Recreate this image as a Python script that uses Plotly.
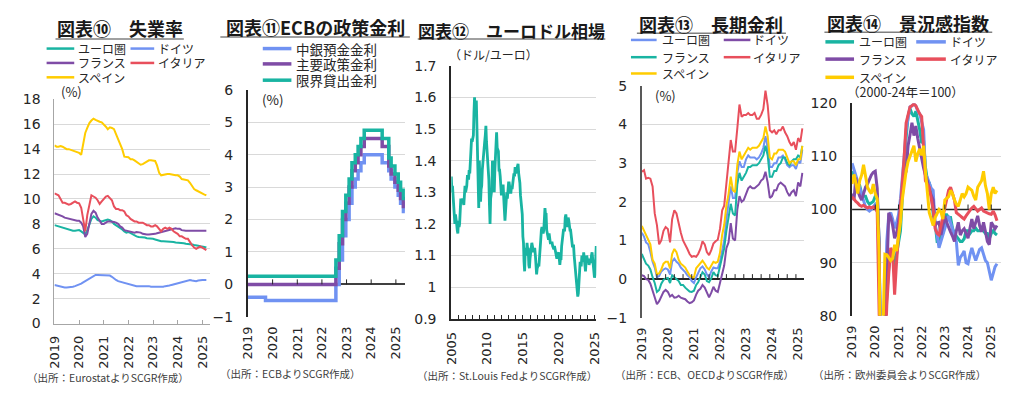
import pandas as pd
import plotly.graph_objects as go

# page is 1023x397; the plot div sits inside the default 8px body margin
PAGE_W, PAGE_H = 1023, 397
OX, OY = 8, 8
W, H = PAGE_W - 2 * OX, PAGE_H - 2 * OY

# ---------------- data ----------------
country_names = ["ユーロ圏", "ドイツ", "フランス", "イタリア", "スペイン"]
ecb_names = ["中銀預金金利", "主要政策金利", "限界貸出金利"]

# 図表⑩ 失業率 (monthly from 2019-01)
unemp_ea = [7.9, 7.85, 7.8, 7.7, 7.65, 7.6, 7.55, 7.5, 7.5, 7.45, 7.45, 7.45,
            7.5, 7.4, 7.25, 7.15, 7.5, 8.0, 8.4, 8.6, 8.5, 8.3, 8.25, 8.2,
            8.25, 8.3, 8.35, 8.3, 8.2, 8.0, 7.9, 7.8, 7.65, 7.55, 7.4, 7.3,
            7.35, 7.25, 7.2, 7.1, 7.0, 6.95, 6.95, 6.9, 6.9, 6.85, 6.85, 6.8,
            6.8, 6.75, 6.7, 6.65, 6.6, 6.6, 6.6, 6.6, 6.55, 6.6, 6.55, 6.5,
            6.5, 6.5, 6.45, 6.45, 6.4, 6.4, 6.4, 6.35, 6.3, 6.3, 6.25, 6.2,
            6.2, 6.15, 6.1]
unemp_de = [3.1, 3.05, 3.0, 2.95, 2.9, 2.9, 2.9, 2.9, 2.9, 2.95, 3.0, 3.05,
            3.15, 3.2, 3.3, 3.4, 3.5, 3.6, 3.7, 3.8, 3.9, 3.9, 3.9, 3.9,
            3.9, 3.9, 3.9, 3.85, 3.75, 3.6, 3.5, 3.4, 3.35, 3.3, 3.25, 3.2,
            3.15, 3.1, 3.1, 3.05, 3.0, 3.0, 3.0, 3.0, 3.05, 3.05, 3.0, 2.95,
            2.95, 2.9, 2.9, 2.9, 2.9, 2.95, 3.0, 3.0, 3.05, 3.1, 3.15, 3.2,
            3.2, 3.25, 3.3, 3.4, 3.45, 3.5, 3.5, 3.45, 3.4, 3.4, 3.45, 3.5,
            3.5, 3.5, 3.5]
unemp_fr = [8.85, 8.8, 8.75, 8.7, 8.6, 8.5, 8.45, 8.4, 8.35, 8.3, 8.25, 8.25,
            8.25, 8.1, 7.8, 6.95, 7.2, 8.0, 8.8, 9.05, 8.9, 8.5, 8.2, 8.0,
            8.0, 8.1, 8.2, 8.2, 8.2, 8.15, 8.1, 8.0, 7.8, 7.7, 7.5, 7.45,
            7.4, 7.35, 7.3, 7.3, 7.35, 7.35, 7.3, 7.2, 7.15, 7.15, 7.15, 7.15,
            7.2, 7.2, 7.25, 7.3, 7.3, 7.35, 7.4, 7.45, 7.55, 7.6, 7.65, 7.65,
            7.6, 7.6, 7.5, 7.45, 7.45, 7.45, 7.45, 7.4, 7.4, 7.4, 7.4, 7.4,
            7.4, 7.45, 7.45]
unemp_it = [10.45, 10.4, 10.3, 10.0, 9.7, 9.7, 9.6, 9.55, 9.6, 9.7, 9.8, 9.7,
            9.65, 9.3, 8.5, 7.4, 8.7, 9.6, 10.3, 10.2, 10.1, 9.9, 9.6, 9.8,
            10.0, 10.2, 10.25, 10.1, 9.9, 9.4, 9.2, 9.2, 9.1, 9.1, 9.0, 8.7,
            8.6, 8.4, 8.3, 8.2, 8.2, 8.1, 8.1, 8.1, 8.0, 7.9, 7.9, 7.8,
            7.8, 7.9, 7.8, 7.6, 7.4, 7.6, 7.7, 7.6, 7.7, 7.6, 7.4, 7.3,
            7.2, 7.0, 7.0, 6.9, 6.8, 6.8, 6.5, 6.3, 6.1, 6.0, 6.1, 6.2,
            6.1, 6.0, 5.9]
unemp_es = [14.3, 14.2, 14.2, 14.25, 14.2, 14.1, 14.0, 14.0, 13.95, 13.9, 13.85, 13.8,
            13.7, 13.55, 14.3, 15.3, 15.7, 16.1, 16.3, 16.45, 16.35, 16.25, 16.2, 16.15,
            16.0, 15.8, 15.6, 15.75, 15.7, 15.6, 15.2, 14.8, 14.5, 14.0, 13.4, 13.35,
            13.35, 13.2, 13.2, 13.1, 13.0, 12.9, 12.75, 12.8, 12.9, 13.0, 13.1, 13.1,
            13.05, 13.05, 12.7, 12.1, 11.9, 11.95, 12.0, 12.0, 12.0, 11.95, 11.9, 11.9,
            11.9, 11.8, 11.6, 11.55, 11.5, 11.5, 11.3, 11.0, 10.8, 10.7, 10.6, 10.5,
            10.45, 10.35, 10.3]

# 図表⑪ ECB policy rates (rate change dates)
ecb_dates = ["2019-01-01", "2019-09-18", "2022-07-27", "2022-09-14", "2022-11-02",
             "2022-12-21", "2023-02-08", "2023-03-22", "2023-05-10", "2023-06-21",
             "2023-08-02", "2023-09-20", "2024-06-12", "2024-09-18", "2024-10-23",
             "2024-12-18", "2025-02-05", "2025-03-12", "2025-04-23", "2025-05-15"]
ecb_deposit = [-0.40, -0.50, 0.00, 0.75, 1.50, 2.00, 2.50, 3.00, 3.25, 3.50,
               3.75, 4.00, 3.75, 3.50, 3.25, 3.00, 2.75, 2.50, 2.25, 2.25]
ecb_mro = [0.00, 0.00, 0.50, 1.25, 2.00, 2.50, 3.00, 3.50, 3.75, 4.00,
           4.25, 4.50, 4.25, 3.65, 3.40, 3.15, 2.90, 2.65, 2.40, 2.40]
ecb_mlf = [0.25, 0.25, 0.75, 1.50, 2.25, 2.75, 3.25, 3.75, 4.00, 4.25,
           4.50, 4.75, 4.50, 3.90, 3.65, 3.40, 3.15, 2.90, 2.65, 2.65]

# 図表⑫ EUR/USD (monthly from 2005-01)
eurusd = [1.35, 1.30, 1.32, 1.29, 1.27, 1.22, 1.20, 1.23, 1.22, 1.20, 1.18, 1.17,
          1.21, 1.19, 1.20, 1.23, 1.28, 1.27, 1.27, 1.28, 1.27, 1.26, 1.29, 1.32,
          1.30, 1.31, 1.32, 1.35, 1.35, 1.34, 1.37, 1.36, 1.39, 1.42, 1.47, 1.46,
          1.47, 1.48, 1.55, 1.60, 1.56, 1.56, 1.59, 1.50, 1.44, 1.33, 1.25, 1.40,
          1.32, 1.27, 1.31, 1.32, 1.37, 1.40, 1.41, 1.43, 1.46, 1.48, 1.51, 1.46,
          1.43, 1.37, 1.36, 1.34, 1.26, 1.20, 1.28, 1.29, 1.31, 1.40, 1.37, 1.32,
          1.30, 1.37, 1.40, 1.45, 1.49, 1.44, 1.43, 1.43, 1.37, 1.37, 1.35, 1.30,
          1.29, 1.32, 1.32, 1.32, 1.28, 1.25, 1.21, 1.24, 1.29, 1.30, 1.28, 1.31,
          1.33, 1.33, 1.30, 1.30, 1.30, 1.32, 1.31, 1.33, 1.34, 1.36, 1.35, 1.38,
          1.36, 1.37, 1.38, 1.38, 1.39, 1.36, 1.35, 1.33, 1.29, 1.27, 1.25, 1.23,
          1.16, 1.14, 1.08, 1.05, 1.12, 1.12, 1.10, 1.14, 1.12, 1.12, 1.07, 1.06,
          1.09, 1.11, 1.11, 1.14, 1.13, 1.12, 1.11, 1.12, 1.12, 1.10, 1.07, 1.04,
          1.06, 1.07, 1.07, 1.07, 1.11, 1.12, 1.15, 1.18, 1.19, 1.18, 1.17, 1.18,
          1.22, 1.25, 1.23, 1.23, 1.18, 1.17, 1.17, 1.15, 1.17, 1.15, 1.14, 1.14,
          1.14, 1.14, 1.13, 1.12, 1.12, 1.13, 1.12, 1.11, 1.10, 1.09, 1.10, 1.11,
          1.11, 1.09, 1.07, 1.09, 1.09, 1.13, 1.15, 1.18, 1.18, 1.18, 1.18, 1.22,
          1.23, 1.21, 1.19, 1.20, 1.22, 1.21, 1.18, 1.18, 1.18, 1.16, 1.13, 1.13,
          1.13, 1.13, 1.10, 1.08, 1.06, 1.05, 1.02, 1.01, 0.97, 0.98, 1.03, 1.06,
          1.08, 1.07, 1.07, 1.10, 1.09, 1.08, 1.11, 1.09, 1.07, 1.05, 1.08, 1.10,
          1.09, 1.08, 1.09, 1.07, 1.08, 1.08, 1.08, 1.10, 1.11, 1.09, 1.06, 1.04,
          1.03, 1.04, 1.08, 1.13]

# 図表⑬ 長期金利 (monthly from 2019-01)
lt_ea = [1.20, 1.10, 0.95, 0.90, 0.70, 0.45, 0.30, 0.05, 0.08, 0.20, 0.25, 0.28,
         0.25, 0.12, 0.45, 0.53, 0.45, 0.40, 0.30, 0.25, 0.18, 0.10, 0.05, -0.05,
         -0.10, 0.05, 0.15, 0.28, 0.33, 0.25, 0.12, 0.05, 0.20, 0.30, 0.28, 0.28,
         0.45, 0.80, 1.00, 1.55, 1.95, 2.40, 2.10, 2.10, 2.75, 3.05, 2.90, 2.90,
         3.10, 3.20, 3.15, 3.15, 3.15, 3.10, 3.15, 3.25, 3.40, 3.70, 3.40, 2.90,
         2.90, 3.00, 3.00, 3.15, 3.15, 3.20, 3.10, 2.95, 2.90, 2.95, 2.95, 2.85,
         3.05, 3.00, 3.35]
lt_de = [0.10, 0.08, 0.00, -0.02, -0.12, -0.30, -0.45, -0.65, -0.57, -0.45, -0.33, -0.28,
         -0.33, -0.45, -0.41, -0.48, -0.47, -0.43, -0.48, -0.50, -0.52, -0.58, -0.62, -0.60,
         -0.55, -0.40, -0.30, -0.25, -0.15, -0.22, -0.35, -0.47, -0.35, -0.20, -0.30, -0.33,
         -0.10, 0.10, 0.35, 0.80, 0.95, 1.45, 1.05, 1.00, 1.80, 2.15, 2.00, 2.05,
         2.20, 2.35, 2.40, 2.35, 2.35, 2.40, 2.45, 2.55, 2.60, 2.78, 2.50, 2.10,
         2.15, 2.30, 2.30, 2.45, 2.50, 2.45, 2.40, 2.25, 2.15, 2.25, 2.30, 2.15,
         2.50, 2.40, 2.75]
lt_fr = [0.65, 0.50, 0.40, 0.35, 0.25, 0.05, -0.10, -0.33, -0.28, -0.12, -0.02, 0.02,
         0.03, -0.10, 0.10, 0.05, 0.00, -0.05, -0.15, -0.15, -0.22, -0.28, -0.32, -0.33,
         -0.30, -0.15, -0.08, 0.05, 0.18, 0.12, -0.05, -0.08, 0.02, 0.18, 0.10, 0.08,
         0.35, 0.62, 0.80, 1.25, 1.55, 1.95, 1.70, 1.65, 2.45, 2.75, 2.55, 2.65,
         2.75, 2.90, 2.90, 2.95, 2.95, 2.95, 3.00, 3.10, 3.20, 3.45, 3.20, 2.65,
         2.65, 2.80, 2.80, 2.95, 3.00, 3.15, 3.15, 3.00, 2.95, 3.05, 3.10, 3.10,
         3.20, 3.15, 3.45]
lt_it = [2.78, 2.82, 2.60, 2.62, 2.60, 2.40, 1.70, 1.40, 0.90, 1.00, 1.25, 1.35,
         1.30, 0.95, 1.55, 1.78, 1.70, 1.40, 1.20, 1.00, 0.90, 0.78, 0.65, 0.58,
         0.60, 0.58, 0.65, 0.78, 0.98, 0.90, 0.70, 0.62, 0.75, 0.92, 0.98, 1.02,
         1.30, 1.78, 1.90, 2.45, 2.95, 3.60, 3.30, 3.30, 3.90, 4.52, 4.20, 4.25,
         4.25, 4.30, 4.25, 4.25, 4.30, 4.15, 4.15, 4.25, 4.40, 4.88, 4.50, 3.85,
         3.80, 3.85, 3.75, 3.85, 3.85, 3.95, 3.80, 3.70, 3.55, 3.45, 3.55, 3.35,
         3.65, 3.55, 3.90]
lt_es = [1.38, 1.25, 1.15, 1.05, 0.90, 0.50, 0.40, 0.12, 0.15, 0.25, 0.40, 0.45,
         0.45, 0.28, 0.65, 0.78, 0.70, 0.50, 0.40, 0.35, 0.30, 0.20, 0.10, 0.05,
         0.05, 0.28, 0.35, 0.40, 0.48, 0.40, 0.30, 0.25, 0.35, 0.45, 0.42, 0.45,
         0.68, 1.15, 1.40, 1.90, 2.20, 2.65, 2.30, 2.25, 2.95, 3.30, 3.10, 3.20,
         3.30, 3.40, 3.35, 3.40, 3.40, 3.40, 3.45, 3.55, 3.65, 3.95, 3.70, 3.15,
         3.10, 3.25, 3.25, 3.35, 3.35, 3.35, 3.30, 3.15, 3.00, 3.05, 3.05, 2.95,
         3.10, 3.10, 3.45]

# 図表⑭ 景況感指数 (monthly from 2019-01)
esi_ea = [107.2, 106.5, 105.8, 104.5, 104.5, 103.0, 102.5, 102.5, 101.5, 101.0, 101.3, 101.5,
          102.5, 103.0, 94.0, 66.0, 67.5, 76.0, 84.0, 89.0, 92.0, 92.0, 89.0, 91.5,
          93.5, 96.0, 102.0, 108.5, 113.5, 117.5, 119.0, 118.0, 117.5, 118.5, 117.0, 115.0,
          112.5, 113.0, 108.0, 105.5, 105.0, 103.5, 99.0, 97.5, 94.0, 94.0, 95.0, 96.5,
          99.0, 99.0, 98.5, 98.5, 96.5, 95.5, 95.0, 94.5, 94.0, 94.0, 94.5, 96.0,
          96.0, 95.5, 96.0, 96.0, 96.5, 96.0, 96.0, 96.5, 96.0, 95.5, 95.5, 94.5,
          95.5, 96.0, 95.5, 95.2]
esi_de = [108.7, 107.5, 106.5, 105.0, 104.0, 103.0, 101.5, 100.5, 100.0, 99.7, 100.0, 100.5,
          101.0, 100.5, 93.0, 68.0, 70.0, 82.0, 94.0, 99.0, 99.4, 98.2, 96.5, 97.5,
          99.0, 102.0, 105.5, 110.0, 115.0, 117.5, 119.3, 119.5, 119.8, 119.5, 118.5, 118.0,
          116.5, 115.0, 106.6, 106.0, 105.0, 104.0, 103.6, 97.0, 95.2, 92.8, 94.0, 95.2,
          96.5, 97.6, 98.8, 97.5, 96.4, 95.0, 94.0, 89.5, 91.0, 91.5, 92.2, 90.0,
          89.8, 91.5, 92.8, 91.5, 90.4, 91.5, 92.5, 92.8, 91.5, 90.4, 90.0, 88.5,
          86.7, 88.0, 89.2, 89.8]
esi_fr = [103.0, 101.8, 106.0, 103.6, 102.5, 101.8, 103.0, 104.2, 104.8, 105.7, 106.5, 107.0,
          107.2, 104.0, 94.0, 62.0, 65.0, 76.0, 88.0, 99.4, 98.5, 97.0, 94.6, 95.5,
          97.6, 100.5, 103.6, 106.0, 107.2, 112.0, 114.0, 116.3, 113.9, 115.7, 113.3, 111.4,
          109.5, 107.8, 106.5, 105.4, 103.6, 102.5, 101.8, 97.0, 97.5, 97.6, 95.2, 97.0,
          98.8, 97.5, 96.5, 95.8, 95.0, 94.0, 96.0, 97.6, 95.2, 96.0, 96.4, 95.5,
          94.6, 96.5, 98.2, 96.4, 97.5, 98.8, 97.0, 95.8, 97.6, 95.5, 94.0, 93.4,
          97.6, 97.0, 96.4, 97.0]
esi_it = [102.4, 101.8, 101.5, 101.2, 100.8, 100.6, 100.8, 100.5, 100.3, 100.5, 100.3, 100.5,
          100.3, 99.5, 88.0, 62.0, 62.0, 72.0, 82.0, 88.0, 92.8, 92.0, 84.0, 90.0,
          95.2, 99.0, 103.6, 110.0, 116.3, 118.0, 119.3, 119.5, 119.9, 119.5, 118.7, 118.0,
          117.5, 111.4, 105.4, 104.8, 104.2, 102.0, 100.0, 96.4, 95.5, 95.2, 97.0, 98.8,
          100.5, 101.8, 103.6, 104.2, 103.0, 101.8, 99.4, 99.0, 98.8, 98.5, 98.2, 98.8,
          99.4, 100.0, 100.3, 100.6, 100.2, 99.7, 100.0, 100.3, 99.7, 99.5, 99.4, 99.2,
          99.1, 99.7, 99.0, 97.9]
esi_es = [104.8, 106.6, 105.0, 103.0, 105.4, 106.5, 108.4, 106.0, 104.2, 103.5, 103.0, 104.8,
          103.0, 102.0, 92.0, 62.0, 75.0, 91.6, 91.5, 91.0, 90.4, 90.8, 93.4, 92.2,
          95.0, 97.6, 101.8, 105.0, 107.2, 109.0, 110.2, 111.0, 112.0, 109.0, 110.5, 111.4,
          110.2, 112.0, 107.2, 103.6, 99.4, 98.2, 97.0, 98.5, 99.4, 100.0, 99.5, 98.2,
          101.8, 102.2, 102.4, 103.6, 103.0, 101.8, 101.0, 100.6, 102.0, 103.0, 102.4, 103.0,
          104.2, 103.8, 103.6, 102.5, 101.8, 104.2, 104.8, 105.4, 107.2, 104.5, 103.0, 100.0,
          103.0, 104.2, 103.0, 103.6]
esi_base = 100

# ---------------- styling ----------------
TEAL = "#19b4a2"
BLUE = "#7092f2"
PURPLE = "#7f4ca6"
RED = "#e84f5c"
YELLOW = "#ffcc00"
JP = "Noto Sans CJK JP"
NUM = "DejaVu Sans"
TXT = "#262626"
GRID = "#d9d9d9"


def months(start, n):
    return pd.date_range(start, periods=n, freq="MS")


# page pixel -> paper fraction
def px(x):
    return (x - OX) / W


def py(y):
    return 1 - (y - OY) / H


def xdom(a, b):
    return [px(a), px(b)]


def ydom(top, bottom):
    return [py(bottom), py(top)]


X5_RANGE = ["2019-01-01", "2025-06-05"]

fig = go.Figure()

# Panel 1
for name, vals, col in zip(country_names, [unemp_ea, unemp_de, unemp_fr, unemp_it, unemp_es],
                           [TEAL, BLUE, PURPLE, RED, YELLOW]):
    fig.add_trace(go.Scatter(x=months("2019-01-01", len(vals)), y=vals, mode="lines", name=name,
                             line=dict(color=col, width=2), xaxis="x", yaxis="y", showlegend=False))
# Panel 2
for name, vals, col in zip(ecb_names, [ecb_deposit, ecb_mro, ecb_mlf], [BLUE, PURPLE, TEAL]):
    fig.add_trace(go.Scatter(x=pd.to_datetime(ecb_dates), y=vals, mode="lines", name=name,
                             line=dict(color=col, width=3.5, shape="hv"), xaxis="x2", yaxis="y2",
                             showlegend=False))
# Panel 3
fig.add_trace(go.Scatter(x=months("2005-01-01", len(eurusd)), y=eurusd, mode="lines", name="EUR/USD",
                         line=dict(color=TEAL, width=2.8), xaxis="x3", yaxis="y3", showlegend=False))
# Panel 4
lt_colors = [BLUE, PURPLE, TEAL, RED, YELLOW]
for name, vals, col in zip(country_names, [lt_ea, lt_de, lt_fr, lt_it, lt_es], lt_colors):
    fig.add_trace(go.Scatter(x=months("2019-01-01", len(vals)), y=vals, mode="lines", name=name,
                             line=dict(color=col, width=2), xaxis="x4", yaxis="y4", showlegend=False))
# Panel 5 (base line at 100 first, then series)
fig.add_trace(go.Scatter(x=X5_RANGE, y=[esi_base, esi_base], mode="lines", name="基準",
                         line=dict(color=TXT, width=1.5), xaxis="x5", yaxis="y5", showlegend=False,
                         hoverinfo="skip"))
esi_colors = [TEAL, BLUE, PURPLE, RED, YELLOW]
for name, vals, col in zip(country_names, [esi_ea, esi_de, esi_fr, esi_it, esi_es], esi_colors):
    fig.add_trace(go.Scatter(x=months("2019-01-01", len(vals)), y=vals, mode="lines", name=name,
                             line=dict(color=col, width=3), xaxis="x5", yaxis="y5", showlegend=False))

years_19 = [f"{y}-01-01" for y in range(2019, 2026)]
years_19_txt = [str(y) for y in range(2019, 2026)]
years_05 = [f"{y}-01-01" for y in range(2005, 2026)]
years_05_txt = [str(y) if (y - 2005) % 5 == 0 else "" for y in range(2005, 2026)]

xt = dict(type="date", tickangle=-90, tickfont=dict(family=NUM, size=13, color=TXT),
          showgrid=False, zeroline=False, ticklabelstandoff=6, fixedrange=True)
yt = dict(tickfont=dict(family=NUM, size=14, color=TXT), showgrid=True, gridcolor=GRID,
          gridwidth=1, ticks="", ticklabelstandoff=10, fixedrange=True)

fig.update_layout(
    width=W, height=H, margin=dict(l=0, r=0, t=0, b=0),
    paper_bgcolor="white", plot_bgcolor="white", showlegend=False,
    xaxis=dict(xt, domain=xdom(47, 205), anchor="y", range=["2019-01-01", "2025-05-01"],
               tickvals=years_19, ticktext=years_19_txt, ticks="inside", ticklen=4,
               tickcolor="#a6a6a6", showline=True, linecolor="#a6a6a6", linewidth=1),
    yaxis=dict(yt, domain=ydom(95, 329), anchor="x", range=[0, 18], dtick=2,
               showline=True, linecolor="#a6a6a6", linewidth=1, zeroline=False),
    xaxis2=dict(xt, domain=xdom(243, 402), anchor="y2", range=["2019-01-01", "2025-05-15"],
                tickvals=years_19, ticktext=years_19_txt, ticks="", showline=False),
    yaxis2=dict(yt, domain=ydom(85, 322), anchor="x2", range=[-1, 6], dtick=1,
                showline=True, linecolor=TXT, linewidth=2, zeroline=True,
                zerolinecolor="#404040", zerolinewidth=2),
    xaxis3=dict(xt, domain=xdom(449, 596), anchor="y3", range=["2005-01-01", "2025-04-10"],
                tickvals=years_05, ticktext=years_05_txt, ticks="inside", ticklen=4,
                tickcolor=TXT, showline=True, linecolor=TXT, linewidth=2),
    yaxis3=dict(yt, domain=ydom(60, 324), anchor="x3", range=[0.9, 1.7], dtick=0.1,
                showline=True, linecolor=TXT, linewidth=2, zeroline=False),
    xaxis4=dict(xt, domain=xdom(642, 806), anchor="y4", range=["2019-01-01", "2025-03-20"],
                tickvals=years_19, ticktext=years_19_txt, ticks="", showline=False),
    yaxis4=dict(yt, domain=ydom(81, 323), anchor="x4", range=[-1, 5], dtick=1,
                showline=True, linecolor="#595959", linewidth=1.5, zeroline=True,
                zerolinecolor=TXT, zerolinewidth=1.5),
    xaxis5=dict(xt, domain=xdom(855, 1006), anchor="y5", range=X5_RANGE,
                tickvals=years_19, ticktext=years_19_txt, ticks="", showline=False),
    yaxis5=dict(yt, domain=ydom(99, 321), anchor="x5", range=[80, 120], dtick=10,
                showline=True, linecolor=TXT, linewidth=2, zeroline=False),
)

shapes = []
annotations = []


# small tick marks on the zero / 100 lines
def tick_marks(dates, xref, yref, yval):
    for d in dates:
        shapes.append(dict(type="line", xref=xref, yref=yref, x0=d, x1=d,
                           ysizemode="pixel", yanchor=yval, y0=0, y1=5,
                           line=dict(color=TXT, width=1)))


tick_marks(years_19[1:], "x2", "y2", 0)
tick_marks([d.strftime("%Y-%m-%d") for d in pd.date_range("2019-04-01", "2025-03-01", freq="4MS")],
           "x4", "y4", 0)
tick_marks(years_19[1:], "x5", "y5", esi_base)

# titles with underline
titles = [("図表⑩　失業率", 113, 21, 18, 48, 178, 32),
          ("図表⑪ECBの政策金利", 311, 20, 18, 215, 407, 30),
          ("図表⑫　ユーロドル相場", 510, 23, 17, 415, 605, 32),
          ("図表⑬　長期金利", 712, 16, 18, 637, 788, 26),
          ("図表⑭　景況感指数", 912, 15, 18, 827, 997, 25)]
for text, cx, cy, size, ux0, ux1, uy in titles:
    annotations.append(dict(text=f"<b>{text}</b>", x=px(cx), y=py(cy), xref="paper", yref="paper",
                            xanchor="center", yanchor="middle", showarrow=False,
                            font=dict(family=JP, size=size, color="#1a1a1a")))
    shapes.append(dict(type="line", xref="paper", yref="paper", x0=px(ux0), x1=px(ux1),
                       y0=py(uy), y1=py(uy), line=dict(color="#808080", width=1.5)))


# legends (line swatch + text)
def legend_entry(name, color, lx0, lx1, tx, y, size, lw):
    shapes.append(dict(type="line", xref="paper", yref="paper", x0=px(lx0), x1=px(lx1),
                       y0=py(y), y1=py(y), line=dict(color=color, width=lw)))
    annotations.append(dict(text=name, x=px(tx), y=py(y), xref="paper", yref="paper",
                            xanchor="left", yanchor="middle", align="left", showarrow=False,
                            font=dict(family=JP, size=size, color=TXT)))


p1_cols = [TEAL, BLUE, PURPLE, RED, YELLOW]
grid_pos_p1 = [(39, 67, 69, 42), (124, 148, 150, 42), (39, 67, 69, 57), (124, 148, 150, 57), (39, 67, 69, 72)]
for name, col, (a, b, t, y) in zip(country_names, p1_cols, grid_pos_p1):
    legend_entry(name, col, a, b, t, y, 12, 2.5)

for name, col, y in zip(ecb_names, [BLUE, PURPLE, TEAL], [42, 58, 75]):
    legend_entry(name, col, 258, 287, 290, y, 13.5, 3.5)

grid_pos_p4 = [(631, 657, 660, 33), (725, 752, 753, 33), (631, 657, 660, 51), (725, 752, 753, 51), (631, 657, 660, 68)]
for name, col, (a, b, t, y) in zip(country_names, lt_colors, grid_pos_p4):
    legend_entry(name, col, a, b, t, y, 12, 2.5)

grid_pos_p5 = [(828, 857, 860, 35), (920, 950, 952, 35), (828, 857, 860, 53), (920, 950, 952, 53), (828, 857, 860, 72)]
for name, col, (a, b, t, y) in zip(country_names, esi_colors, grid_pos_p5):
    legend_entry(name, col, a, b, t, y, 12, 3.5)

# unit labels
units = [("(%)", 52, 87, 13), ("(%)", 255, 95, 13.5), ("（ドル/ユーロ）", 445, 48, 12),
         ("(%)", 653, 91, 13), ("（2000-24年＝100）", 848, 87, 12.5)]
for text, x, y, size in units:
    annotations.append(dict(text=text, x=px(x), y=py(y), xref="paper", yref="paper",
                            xanchor="left", yanchor="middle", align="left", showarrow=False,
                            font=dict(family=JP, size=size, color=TXT)))

# sources
sources = [("（出所：EurostatよりSCGR作成）", 17, 385), ("（出所：ECBよりSCGR作成）", 213, 381),
           ("（出所：St.Louis FedよりSCGR作成）", 412, 383), ("（出所：ECB、OECDよりSCGR作成）", 613, 382),
           ("（出所：欧州委員会よりSCGR作成）", 813, 382)]
for text, x, y in sources:
    annotations.append(dict(text=text, x=px(x), y=py(y), xref="paper", yref="paper",
                            xanchor="left", yanchor="middle", align="left", showarrow=False,
                            font=dict(family=JP, size=10.5, color="#404040")))

fig.update_layout(shapes=shapes, annotations=annotations)
fig.write_html("out.html")
